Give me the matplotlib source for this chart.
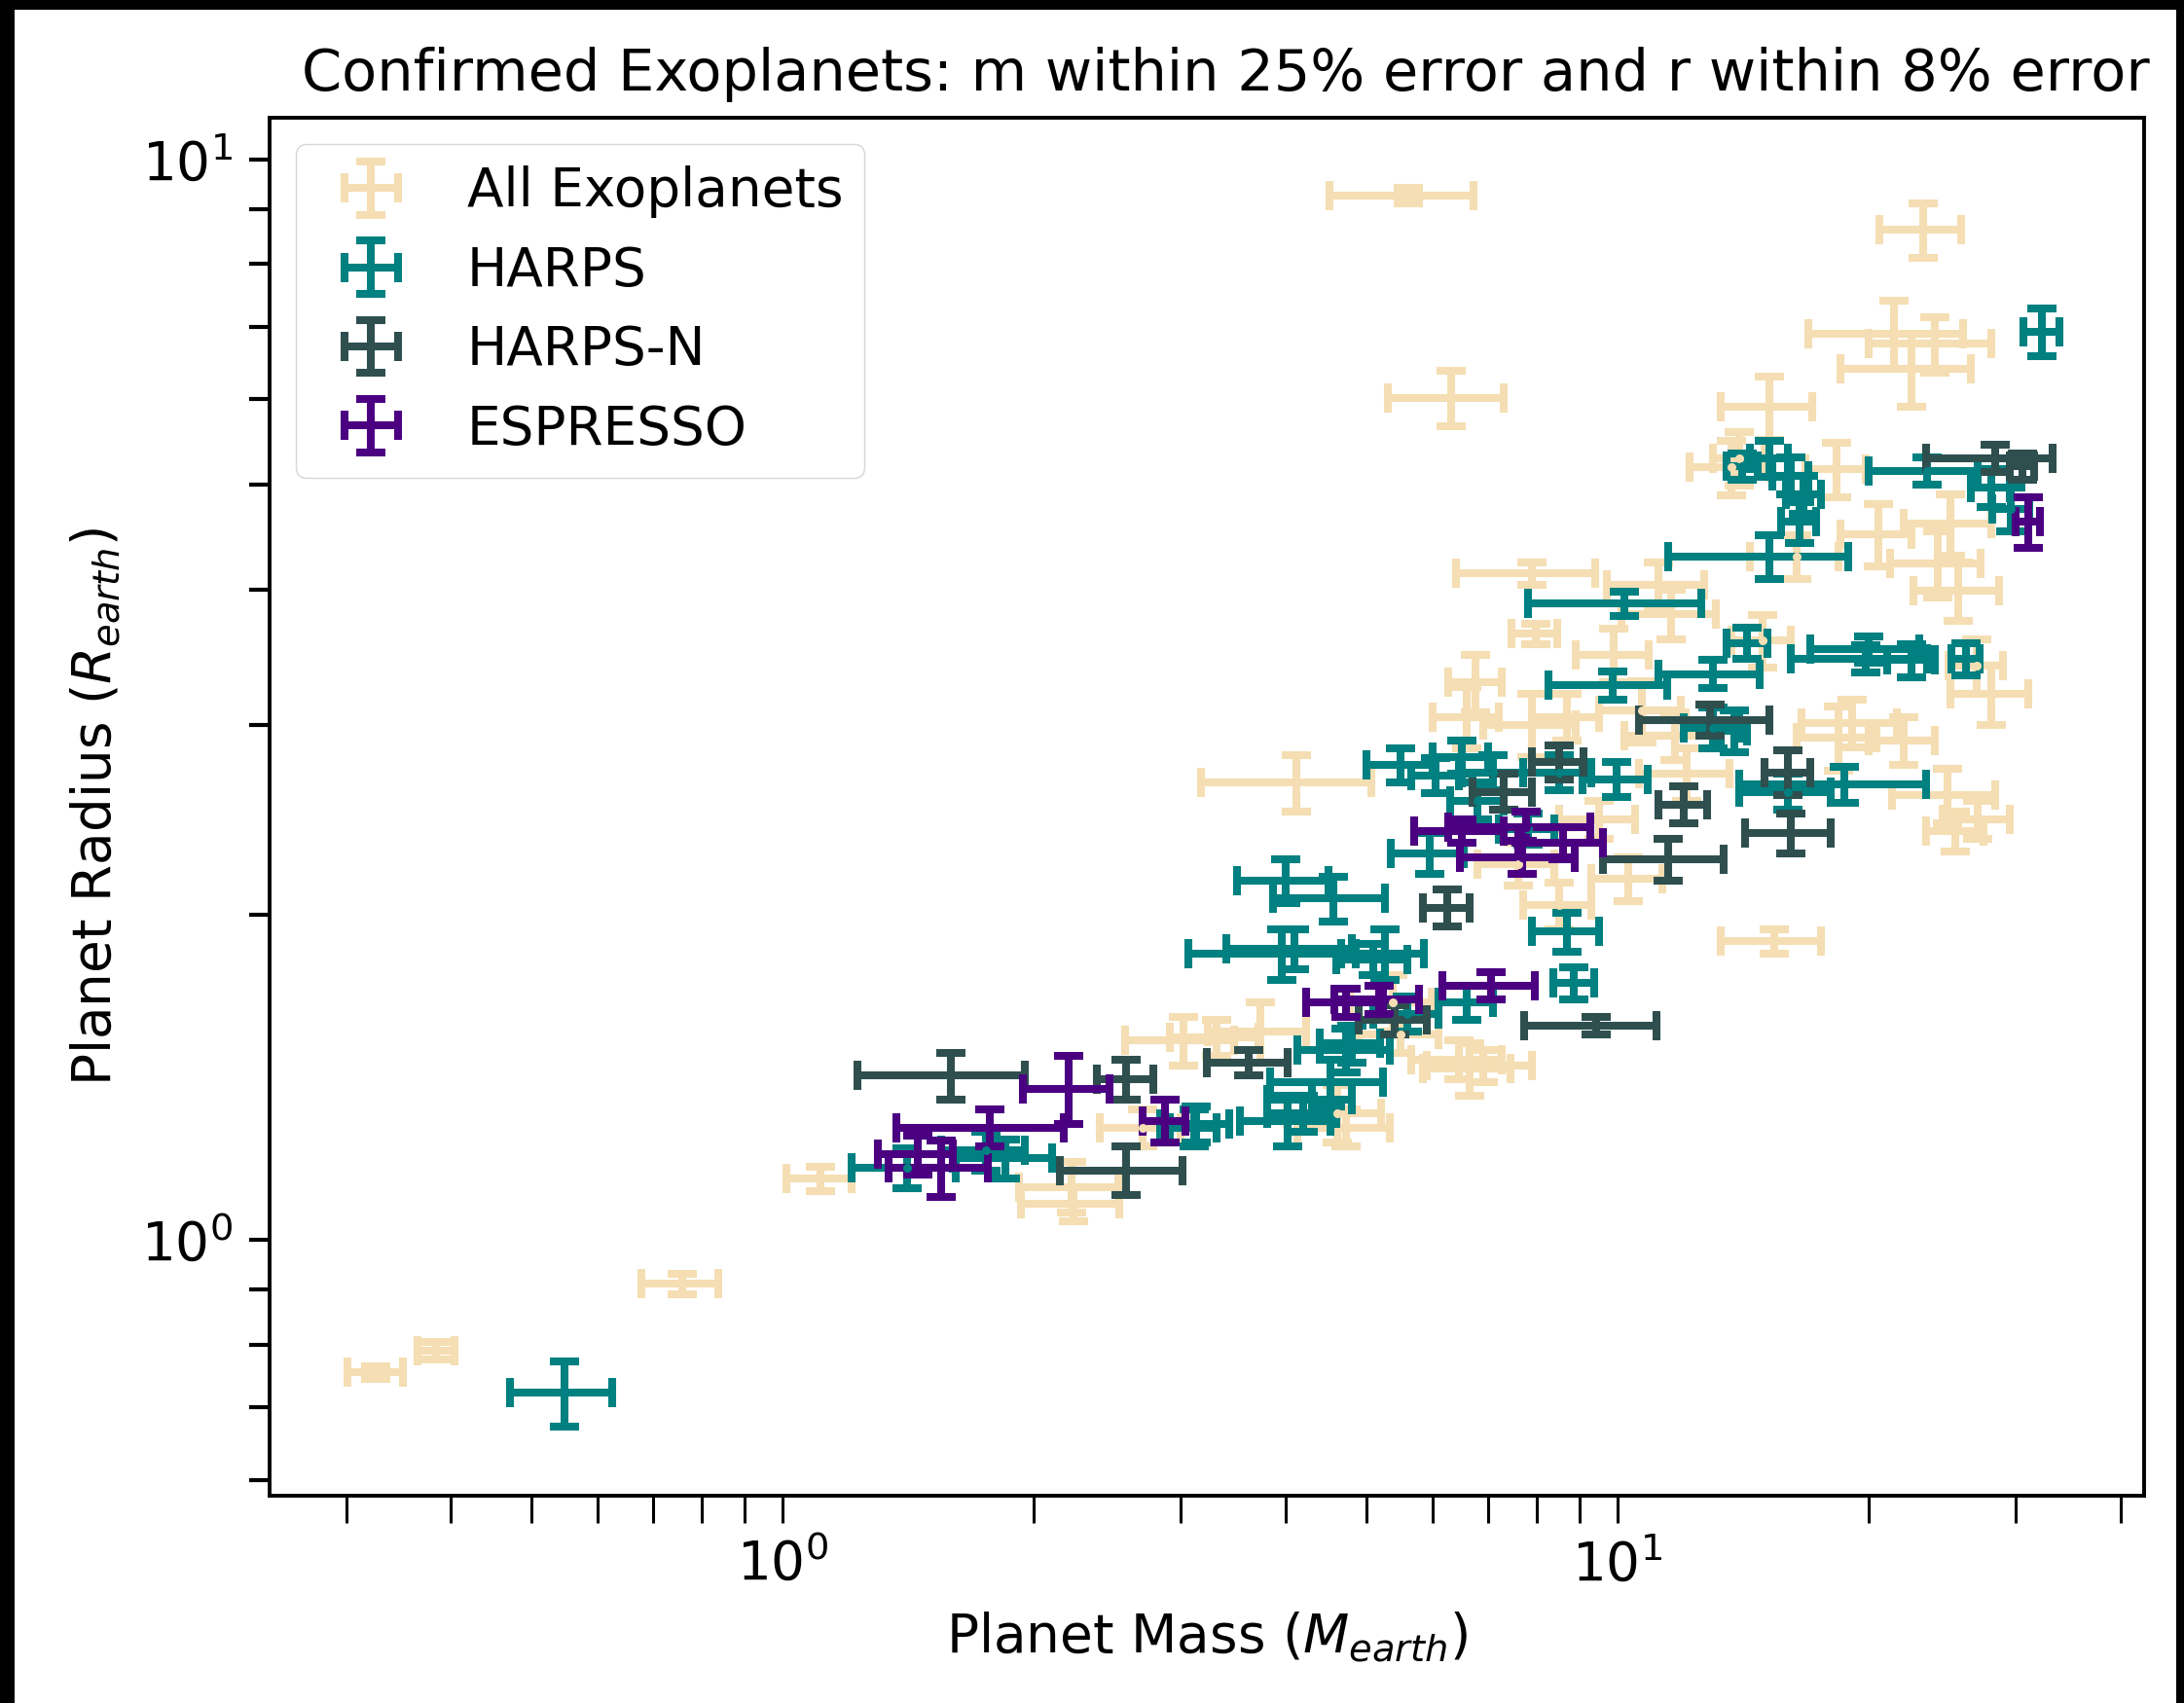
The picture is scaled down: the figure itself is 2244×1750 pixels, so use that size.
import matplotlib
matplotlib.use("Agg")
import matplotlib.pyplot as plt
from matplotlib.patches import Rectangle

# all confirmed exoplanets (mass, mass err, radius, radius err)
all_m = [5.62, 23.2, 21.4, 24.0, 22.5, 6.31, 15.2, 13.7, 18.3, 24.2, 25.0, 25.6,
         7.9, 11.2, 7.97, 14.9, 6.76, 10.7, 7.9, 4.12, 18.4, 24.8, 25.4, 15.4,
         26.9, 3.02, 3.73, 6.65, 4.61, 5.38, 2.22, 1.11, 0.758, 0.385, 0.326,
         6.9, 10.3, 7.6, 8.5, 2.7, 12.1, 9.9, 11.6, 16.4, 28.0, 19.1, 6.6,
         8.7, 11.7, 3.31, 6.46, 4.73, 14.0, 2.23, 27.0, 9.5, 5.5, 20.5, 22.0]
all_dm = [1.1, 2.6, 4.5, 4.0, 4.0, 1.0, 1.9, 1.5, 1.5, 3.0, 3.0, 3.0,
          1.5, 1.5, 0.5, 1.2, 0.5, 1.2, 1.0, 0.95, 2.0, 3.5, 2.0, 2.1,
          2.0, 0.45, 0.5, 0.8, 0.6, 0.6, 0.3, 0.1, 0.08, 0.02, 0.025,
          1.0, 1.0, 0.8, 0.8, 0.3, 1.5, 1.0, 1.5, 2.0, 3.0, 2.5, 0.6,
          0.8, 1.5, 0.4, 0.8, 0.6, 1.0, 0.3, 2.5, 1.0, 0.6, 2.0, 2.0]
all_r = [9.26, 8.61, 6.9, 6.75, 6.4, 6.02, 5.9, 5.19, 5.17, 4.23, 4.6, 3.99,
         4.14, 4.04, 3.64, 3.59, 3.28, 3.09, 3.0, 2.65, 2.92, 2.58, 2.39, 1.89,
         3.4, 1.53, 1.56, 1.44, 1.31, 1.66, 1.12, 1.14, 0.911, 0.79, 0.754,
         1.45, 2.16, 2.23, 2.04, 1.27, 2.7, 3.48, 3.8, 4.29, 3.2, 3.01, 3.05,
         3.05, 2.93, 1.54, 1.47, 1.27, 5.29, 1.08, 2.45, 2.45, 1.55, 4.5, 2.9]
all_dr = [0.15, 0.5, 0.5, 0.4, 0.5, 0.35, 0.4, 0.3, 0.3, 0.3, 0.3, 0.25,
          0.1, 0.2, 0.08, 0.2, 0.2, 0.2, 0.2, 0.16, 0.2, 0.15, 0.1, 0.05,
          0.2, 0.08, 0.1, 0.08, 0.08, 0.1, 0.06, 0.03, 0.02, 0.015, 0.01,
          0.05, 0.1, 0.1, 0.1, 0.05, 0.15, 0.2, 0.2, 0.2, 0.2, 0.15, 0.2,
          0.15, 0.15, 0.06, 0.06, 0.05, 0.3, 0.04, 0.1, 0.1, 0.06, 0.3, 0.15]

# HARPS
harps_m = [32.2, 26.1, 23.5, 15.2, 16.1, 16.7, 16.5, 15.2, 10.2, 29.6, 14.3, 19.8,
           22.5, 13.0, 9.86, 13.0, 13.8, 6.06, 7.1, 8.5, 9.97, 18.7, 16.0, 5.95,
           8.7, 4.57, 3.96, 5.26, 8.87, 4.73, 4.53, 4.03, 3.11, 4.3, 1.41, 1.85,
           0.548, 14.1, 4.0, 5.5, 6.5, 20.0, 28.0, 7.8, 6.8, 4.1, 5.1, 4.8, 6.6,
           5.6, 4.2, 3.13, 1.75]
harps_dm = [1.6, 1.0, 3.5, 0.8, 0.8, 0.8, 0.8, 3.7, 2.4, 1.5, 0.8, 3.7,
            1.5, 1.8, 1.6, 1.0, 0.5, 0.4, 0.6, 0.8, 0.9, 4.7, 2.0, 0.6,
            0.8, 0.7, 0.9, 0.6, 0.5, 0.6, 0.7, 0.5, 0.2, 0.5, 0.2, 0.25,
            0.077, 0.6, 0.5, 0.5, 0.5, 3.0, 1.5, 0.6, 0.5, 0.7, 0.5, 0.4, 0.5,
            0.5, 0.4, 0.3, 0.2]
harps_r = [6.93, 3.45, 5.15, 5.29, 5.1, 4.9, 4.62, 4.29, 3.88, 4.75, 3.57, 3.45,
           3.44, 3.34, 3.26, 2.98, 2.96, 2.69, 2.71, 2.71, 2.67, 2.64, 2.6, 2.28,
           1.93, 2.07, 1.84, 1.84, 1.73, 1.5, 1.40, 1.29, 1.27, 1.35, 1.166, 1.19,
           0.722, 5.2, 2.15, 2.75, 2.8, 3.52, 4.97, 2.4, 2.55, 1.86, 1.82, 1.52, 1.66,
           1.62, 1.31, 1.28, 1.21]
harps_dr = [0.35, 0.12, 0.15, 0.2, 0.2, 0.2, 0.2, 0.2, 0.1, 0.22, 0.12, 0.1,
            0.12, 0.1, 0.1, 0.13, 0.13, 0.1, 0.1, 0.1, 0.1, 0.1, 0.1, 0.1,
            0.08, 0.1, 0.1, 0.1, 0.06, 0.07, 0.07, 0.07, 0.05, 0.05, 0.05, 0.05,
            0.05, 0.15, 0.1, 0.1, 0.1, 0.1, 0.2, 0.08, 0.1, 0.08, 0.06, 0.06, 0.06,
            0.06, 0.05, 0.05, 0.05]

# HARPS-N
harpsn_m = [28.3, 12.9, 8.5, 16.1, 11.5, 12.0, 16.0, 6.25, 9.43, 3.62, 5.4,
            1.59, 2.58, 2.58, 30.5, 7.3]
harpsn_dm = [4.9, 2.3, 0.6, 1.9, 1.9, 0.8, 1.0, 0.4, 1.7, 0.4, 0.5,
             0.36, 0.2, 0.43, 1.0, 0.6]
harpsn_r = [5.29, 3.03, 2.77, 2.38, 2.25, 2.53, 2.71, 2.03, 1.58, 1.46, 1.6,
            1.42, 1.41, 1.16, 5.2, 2.6]
harpsn_dr = [0.15, 0.1, 0.1, 0.1, 0.1, 0.1, 0.13, 0.08, 0.03, 0.04, 0.05,
             0.07, 0.06, 0.06, 0.15, 0.1]

# ESPRESSO
esp_m = [31.0, 7.77, 7.68, 8.6, 6.5, 7.06, 4.73, 5.18, 2.20, 2.87, 1.77, 1.55, 1.45]
esp_dm = [1.0, 1.5, 1.2, 1.0, 0.8, 0.9, 0.5, 0.6, 0.26, 0.17, 0.4, 0.21, 0.15]
esp_r = [4.62, 2.41, 2.26, 2.33, 2.39, 1.72, 1.66, 1.67, 1.38, 1.29, 1.27, 1.166, 1.2]
esp_dr = [0.25, 0.08, 0.08, 0.08, 0.06, 0.05, 0.05, 0.05, 0.1, 0.06, 0.05, 0.07, 0.05]

plt.rcParams["font.size"] = 39.5

fig = plt.figure(figsize=(22.44, 17.5), dpi=100, facecolor="black")
# white canvas inside the black screenshot border
fig.add_artist(Rectangle((15 / 2244, 0), (2236 - 15) / 2244, 1 - 10 / 1750,
                         transform=fig.transFigure, facecolor="white",
                         edgecolor="none", zorder=-10))

ax = fig.add_axes([277 / 2244, 1 - 1537 / 1750, (2203 - 277) / 2244, (1537 - 121) / 1750])

style = dict(fmt="o", markersize=5.5, elinewidth=5.8, capsize=11, capthick=5.8)
ax.errorbar(all_m, all_r, xerr=all_dm, yerr=all_dr, color="wheat",
            label="All Exoplanets", **style)
ax.errorbar(harps_m, harps_r, xerr=harps_dm, yerr=harps_dr, color="teal",
            label="HARPS", **style)
ax.errorbar(harpsn_m, harpsn_r, xerr=harpsn_dm, yerr=harpsn_dr, color="darkslategray",
            label="HARPS-N", **style)
ax.errorbar(esp_m, esp_r, xerr=esp_dm, yerr=esp_dr, color="indigo",
            label="ESPRESSO", **style)

ax.set_xscale("log")
ax.set_yscale("log")
ax.set_xlim(0.243, 42.7)
ax.set_ylim(0.58, 10.93)

for s in ax.spines.values():
    s.set_linewidth(2.8)
ax.tick_params(axis="x", which="both", length=20, width=2.2, pad=12)
ax.tick_params(axis="y", which="both", length=15, width=3.0, pad=12)

ax.set_title("Confirmed Exoplanets: m within 25% error and r within 8% error",
             fontsize=42.5, pad=20, x=0.51)
ax.set_xlabel("Planet Mass ($M_{earth}$)", labelpad=14)
ax.set_ylabel("Planet Radius ($R_{earth}$)", labelpad=14)
ax.legend(loc="upper left", fontsize=39.5)

fig.savefig("out.png", dpi=100, facecolor=fig.get_facecolor())
